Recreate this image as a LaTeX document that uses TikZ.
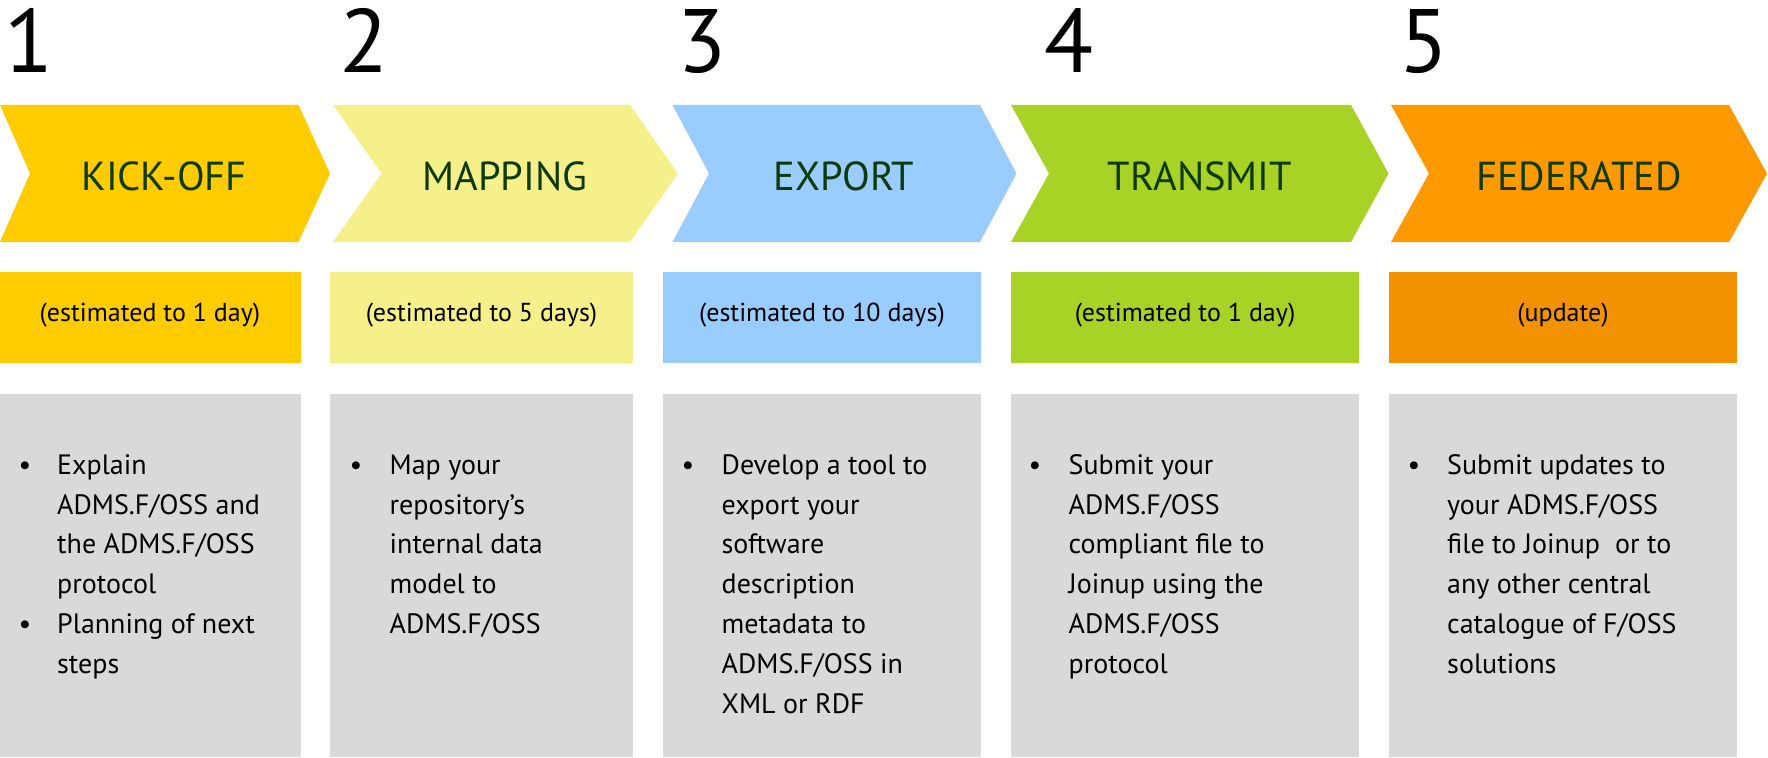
\documentclass[tikz,border=0pt]{standalone}
\usepackage{fontspec}
\setmainfont{PT Sans}
\definecolor{cKick}{HTML}{FFCC00}
\definecolor{cMap}{HTML}{F6F08A}
\definecolor{cExp}{HTML}{99CCFF}
\definecolor{cTra}{HTML}{A8D226}
\definecolor{cFed}{HTML}{FF9900}
\definecolor{cFedB}{HTML}{F39200}
\definecolor{cGray}{HTML}{D9D9D9}
\definecolor{headgreen}{RGB}{12,58,10}
\begin{document}
\begin{tikzpicture}[x=1pt,y=-1pt,
  head/.style={font=\fontsize{40.5}{42}\selectfont, text=headgreen, inner sep=0, anchor=base},
  est/.style={font=\fontsize{26}{28}\selectfont, inner sep=0, anchor=center},
  body/.style={font=\fontsize{28}{39.8}\selectfont, align=left, anchor=north west, inner sep=0},
  bul/.style={font=\fontsize{28}{39.8}\selectfont, anchor=base, inner sep=0},
  num/.style={font=\fontsize{90}{90}\selectfont, anchor=base west, inner sep=0}]
\useasboundingbox (0,0) rectangle (1768,757);
% step numbers
\node[num] (n1) at (4,73) {1};
\node[num] (n2) at (339,73) {2};
\node[num] (n3) at (677,73) {3};
\node[num] (n4) at (1044,73) {4};
\node[num] (n5) at (1399,73) {5};
% chevrons
\fill[cKick] (0,105) -- (298.5,105) -- (330,173.5) -- (298.5,242) -- (0,242) -- (30,173.5) -- cycle;
\fill[cMap] (333,105) -- (630,105) -- (678,173.5) -- (630,242) -- (333,242) -- (381.6,173.5) -- cycle;
\fill[cExp] (672.5,105) -- (980,105) -- (1016.5,173.5) -- (980,242) -- (672.5,242) -- (709,173.5) -- cycle;
\fill[cTra] (1011,105) -- (1351,105) -- (1388.5,173.5) -- (1351,242) -- (1011,242) -- (1049,173.5) -- cycle;
\fill[cFed] (1391,105) -- (1729,105) -- (1767,173.5) -- (1729,242) -- (1391,242) -- (1429,173.5) -- cycle;
\node[head] (h1) at (164,190) {KICK-OFF};
\node[head] (h2) at (505,190) {MAPPING};
\node[head] (h3) at (844,190) {EXPORT};
\node[head] (h4) at (1200,190) {TRANSMIT};
\node[head] (h5) at (1579,190) {FEDERATED};
% estimate boxes
\fill[cKick] (0,272) rectangle (300.5,363);
\fill[cMap] (330,272) rectangle (633,363);
\fill[cExp] (663,272) rectangle (981,363);
\fill[cTra] (1011,272) rectangle (1359,363);
\fill[cFedB] (1389,272) rectangle (1737,363);
\node[est] (e1) at (150,315) {(estimated to 1 day)};
\node[est] (e2) at (481.5,315) {(estimated to 5 days)};
\node[est] (e3) at (822,315) {(estimated to 10 days)};
\node[est] (e4) at (1185,315) {(estimated to 1 day)};
\node[est] (e5) at (1563,315) {(update)};
% description boxes
\fill[cGray] (0,394) rectangle (300.5,757);
\fill[cGray] (330,394) rectangle (633,757);
\fill[cGray] (663,394) rectangle (981,757);
\fill[cGray] (1011,394) rectangle (1359,757);
\fill[cGray] (1389,394) rectangle (1737,757);
\node[bul] (b1a) at (25,474) {•};
\node[bul] (b1b) at (25,633.2) {•};
\node[body] (t1) at (57,444) {\rule{0pt}{30pt}Explain\\ADMS.F/OSS and\\the ADMS.F/OSS\\protocol\\Planning of next\\steps};
\node[bul] (b2) at (356,474) {•};
\node[body] (t2) at (389.5,444) {\rule{0pt}{30pt}Map your\\repository’s\\internal data\\model to\\ADMS.F/OSS};
\node[bul] (b3) at (688,474) {•};
\node[body] (t3) at (721.5,444) {\rule{0pt}{30pt}Develop a tool to\\export your\\software\\description\\metadata to\\ADMS.F/OSS in\\XML or RDF};
\node[bul] (b4) at (1035,474) {•};
\node[body] (t4) at (1068.5,444) {\rule{0pt}{30pt}Submit your\\ADMS.F/OSS\\compliant file to\\Joinup using the\\ADMS.F/OSS\\protocol};
\node[bul] (b5) at (1414,474) {•};
\node[body] (t5) at (1447,444) {\rule{0pt}{30pt}Submit updates to\\your ADMS.F/OSS\\file to Joinup\ \ or to\\any other central\\catalogue of F/OSS\\solutions};
\end{tikzpicture}
\end{document}
